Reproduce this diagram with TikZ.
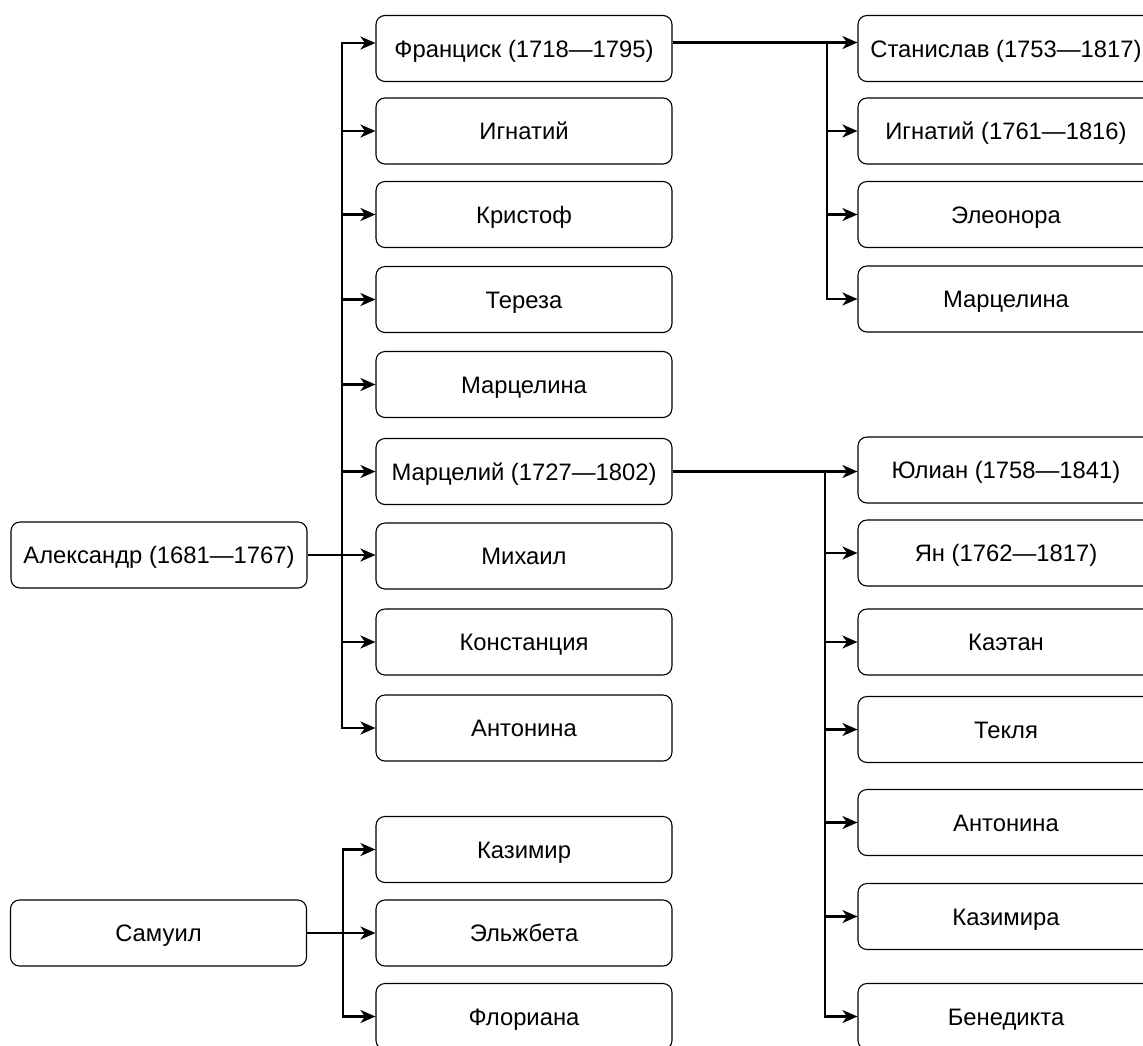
\documentclass[tikz,border=0pt]{standalone}
\usepackage{fontspec}
\setmainfont{Liberation Sans}
\usetikzlibrary{arrows.meta}
\begin{document}
\begin{tikzpicture}[x=1pt,y=-1pt,
  person/.style={draw, rounded corners=9pt, line width=1.1pt, minimum width=296pt,
    minimum height=66pt, inner sep=0pt, text height=17.5pt, text depth=0pt,
    font=\fontsize{23.8}{28}\selectfont},
  conn/.style={line width=2.3pt, -{Stealth[length=15pt,width=13pt,inset=4.5pt]}}]
\useasboundingbox (0,0) rectangle (1143,1045);
% left column
\node[person] (alex) at (159,555) {Александр (1681—1767)};
\node[person] (sam) at (158.5,933) {Самуил};
% middle column
\node[person] (franc) at (524,48.5) {Франциск (1718—1795)};
\node[person] (ign) at (524,131) {Игнатий};
\node[person] (krist) at (524,214.5) {Кристоф};
\node[person] (tereza) at (524,299.5) {Тереза};
\node[person] (marcelina) at (524,384.5) {Марцелина};
\node[person] (marcely) at (524,471.5) {Марцелий (1727—1802)};
\node[person] (mihail) at (524,556) {Михаил};
\node[person] (konst) at (524,642) {Констанция};
\node[person] (anton) at (524,728) {Антонина};
\node[person] (kazimir) at (524,849.5) {Казимир};
\node[person] (elzh) at (524,933) {Эльжбета};
\node[person] (flor) at (524,1016.5) {Флориана};
% right column
\node[person] (stan) at (1006,48.5) {Станислав (1753—1817)};
\node[person] (ign2) at (1006,131) {Игнатий (1761—1816)};
\node[person] (eleon) at (1006,214.5) {Элеонора};
\node[person] (marcelina2) at (1006,299) {Марцелина};
\node[person] (yulian) at (1006,470) {Юлиан (1758—1841)};
\node[person] (yan) at (1006,553) {Ян (1762—1817)};
\node[person] (kaetan) at (1006,642) {Каэтан};
\node[person] (tekla) at (1006,729.5) {Текля};
\node[person] (anton2) at (1006,822.5) {Антонина};
\node[person] (kazimira) at (1006,916.5) {Казимира};
\node[person] (bened) at (1006,1016.5) {Бенедикта};
% bus coordinates
\coordinate (mb) at (342,0);
\coordinate (rb) at (827,0);
\coordinate (lrb) at (825,0);
\coordinate (bb) at (343,0);
\coordinate (fa) at ([yshift=5.5pt]franc.west);
\coordinate (fb) at ([yshift=6pt]franc.east);
% Alexander's children
\draw[conn] (alex.east) -- (alex.east -| mihail.west);
\draw[conn] (mb |- anton.west) |- (fa);
\draw[conn] (mb |- fa) |- (anton.west);
\foreach \n in {ign,krist,tereza,marcelina,marcely,konst}
  \draw[conn] (mb |- \n.west) -- (\n.west);
% Franciszek's children
\draw[conn] (fb) -- (fb -| stan.west);
\draw[conn] (rb |- fb) |- (marcelina2.west);
\foreach \n in {ign2,eleon}
  \draw[conn] (rb |- \n.west) -- (\n.west);
% Marcely's children
\draw[conn] (marcely.east) -- (marcely.east -| yulian.west);
\draw[conn] (lrb |- marcely.east) |- (bened.west);
\foreach \n in {yan,kaetan,tekla,anton2,kazimira}
  \draw[conn] (lrb |- \n.west) -- (\n.west);
% Samuel's children
\draw[conn] (sam.east) -- (elzh.west);
\draw[conn] (bb |- elzh.west) |- (kazimir.west);
\draw[conn] (bb |- elzh.west) |- (flor.west);
\end{tikzpicture}
\end{document}
